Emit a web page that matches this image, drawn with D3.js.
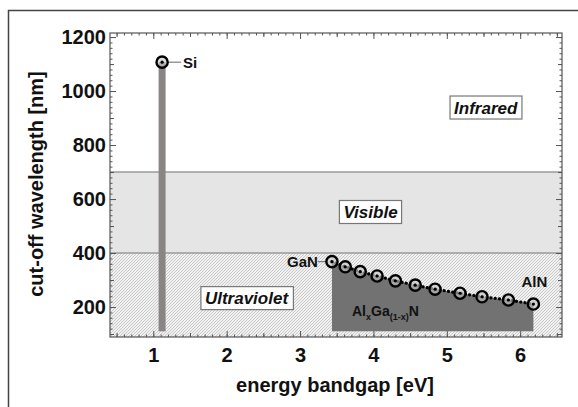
<!DOCTYPE html>
<html><head><meta charset="utf-8">
<script src="https://cdn.jsdelivr.net/npm/d3@7"></script>
<style>
body{margin:0;background:#fff}
svg{display:block}
text{font-family:"Liberation Sans",Arial,sans-serif;font-weight:bold;fill:#111}
</style>
</head><body><svg id="c" width="578" height="407"></svg>
<script>
// ---- data ----
const xTicks = [1, 2, 3, 4, 5, 6];
const yTicks = [200, 400, 600, 800, 1000, 1200];
const xDomain = [0.41, 6.57];
const yDomain = [89, 1215];
const regionNames = ["Ultraviolet", "Visible", "Infrared"];
const regionLow = [89, 400, 700];
const regionHigh = [400, 700, 1215];
const regionLabelX = [2.27, 3.96, 5.53];
const regionLabelY = [233, 552, 939];
const siEnergy = [1.12];
const siWavelength = [1107];
const alganEnergy = [3.435, 3.616, 3.82, 4.05, 4.30, 4.57, 4.84, 5.18, 5.48, 5.84, 6.18];
const alganWavelength = [368, 349, 331, 315, 297, 281, 266, 251, 238, 226, 211];
const baseWavelength = 110;

// ---- layout ----
const W = 578, H = 407;
const L = 110, T = 33, R = 562, B = 337;
const svg = d3.select("#c");
const x = d3.scaleLinear().domain(xDomain).range([L, R]);
const y = d3.scaleLinear().domain(yDomain).range([B, T]);

// outer frame
svg.append("path").attr("d", `M8.5,${H+2} L8.5,10.5 L${W+2},10.5`)
  .attr("fill", "none").attr("stroke", "#444").attr("stroke-width", 1.5);

// hatch pattern
const defs = svg.append("defs");
const pat = defs.append("pattern").attr("id", "hatch").attr("patternUnits", "userSpaceOnUse")
  .attr("width", 3).attr("height", 3);
pat.append("rect").attr("width", 3).attr("height", 3).attr("fill", "#f1f1f1");
pat.append("path").attr("d", "M-1,1 L1,-1 M0,3 L3,0 M2,4 L4,2").attr("stroke", "#c4c4c4").attr("stroke-width", 0.9);
defs.append("clipPath").attr("id", "plotclip").append("rect")
  .attr("x", L).attr("y", T).attr("width", R - L).attr("height", B - T);

const plot = svg.append("g").attr("clip-path", "url(#plotclip)");
plot.append("rect").attr("x", L).attr("y", T).attr("width", R - L).attr("height", B - T).attr("fill", "#fff");

const fills = ["url(#hatch)", "#e5e5e5", "#ffffff"];
regionNames.forEach((n, i) => {
  plot.append("rect").attr("x", L).attr("width", R - L)
    .attr("y", y(regionHigh[i])).attr("height", y(regionLow[i]) - y(regionHigh[i]))
    .attr("fill", fills[i]);
});
// boundaries
[400, 700].forEach(v => {
  plot.append("line").attr("x1", L).attr("x2", R).attr("y1", y(v)).attr("y2", y(v))
    .attr("stroke", "#9a9a9a").attr("stroke-width", 1.5);
});

// Si bar
plot.selectAll(".si").data(siEnergy).enter().append("rect")
  .attr("x", d => x(d) - 3.5).attr("width", 7)
  .attr("y", (d, i) => y(siWavelength[i])).attr("height", (d, i) => y(baseWavelength) - y(siWavelength[i]))
  .attr("fill", "#8a8585");

// AlGaN area
const pts = alganEnergy.map((e, i) => [e, alganWavelength[i]]);
plot.append("path").datum(pts)
  .attr("d", d3.area().x(d => x(d[0])).y0(y(baseWavelength)).y1(d => y(d[1])))
  .attr("fill", "#727272");

// dotted line
plot.append("path").datum(pts)
  .attr("d", d3.line().x(d => x(d[0])).y(d => y(d[1])))
  .attr("fill", "none").attr("stroke", "#000").attr("stroke-width", 3.2)
  .attr("stroke-dasharray", "0.1,4.2").attr("stroke-linecap", "round");

// region label boxes
regionNames.forEach((n, i) => {
  const g = svg.append("g").attr("transform", `translate(${x(regionLabelX[i])},${y(regionLabelY[i])})`);
  const t = g.append("text").attr("text-anchor", "middle").attr("dy", "0.36em")
    .style("font-style", "italic").style("font-size", "17px").text(n);
  const bb = t.node().getBBox();
  g.insert("rect", "text").attr("x", bb.x - 4).attr("y", -11.5).attr("width", bb.width + 8).attr("height", 23)
    .attr("fill", "#fff").attr("stroke", "#777").attr("stroke-width", 1.2);
});

// leader lines + labels
function leader(x1, y1, x2) {
  svg.append("line").attr("x1", x1).attr("x2", x2).attr("y1", y1).attr("y2", y1)
    .attr("stroke", "#666").attr("stroke-width", 1);
}
leader(x(siEnergy[0]) + 6, y(siWavelength[0]), x(siEnergy[0]) + 19);
svg.append("text").attr("x", x(siEnergy[0]) + 21).attr("y", y(siWavelength[0])).attr("dy", "0.36em")
  .style("font-size", "15px").text("Si");
leader(x(alganEnergy[0]) - 14, y(alganWavelength[0]), x(alganEnergy[0]) - 6);
svg.append("text").attr("x", x(alganEnergy[0]) - 14).attr("y", y(alganWavelength[0])).attr("dy", "0.36em")
  .attr("text-anchor", "end").style("font-size", "15px").text("GaN");
svg.append("text").attr("x", x(alganEnergy[alganEnergy.length - 1]) + 14)
  .attr("y", y(alganWavelength[alganWavelength.length - 1]) - 22).attr("dy", "0.36em")
  .attr("text-anchor", "end").style("font-size", "15px").text("AlN");

// AlGaN label
const lab = svg.append("text").attr("x", 352).attr("y", 316).style("font-size", "14px");
lab.append("tspan").text("Al");
lab.append("tspan").attr("dy", 4).style("font-size", "9px").text("x");
lab.append("tspan").attr("dy", -4).text("Ga");
lab.append("tspan").attr("dy", 4).style("font-size", "9px").text("(1-x)");
lab.append("tspan").attr("dy", -4).text("N");

// markers
const allE = siEnergy.concat(alganEnergy);
const allW = siWavelength.concat(alganWavelength);
const mk = svg.append("g");
allE.forEach((e, i) => {
  mk.append("circle").attr("cx", x(e)).attr("cy", y(allW[i])).attr("r", 5.6)
    .attr("fill", "rgba(200,200,200,0.6)").attr("stroke", "#000").attr("stroke-width", 2.4);
  mk.append("circle").attr("cx", x(e)).attr("cy", y(allW[i])).attr("r", 1.6).attr("fill", "#000");
});

// axes
const axColor = "#555";
function styleAxis(g) {
  g.select(".domain").remove();
  g.selectAll("line").attr("stroke", axColor);
  g.selectAll("text").style("font-size", "20px").attr("fill", "#111");
}
const xMinor = d3.range(0.5, 6.6, 0.1).map(v => +v.toFixed(1)).filter(v => v >= xDomain[0]);
const xMid = d3.range(0.5, 6.6, 1);
const yMinor = d3.range(100, 1220, 20);
const yMid = d3.range(100, 1220, 200);

[[d3.axisBottom, B, "translate(0," + B + ")"], [d3.axisTop, T, "translate(0," + T + ")"]].forEach(([ax, pos, tr], k) => {
  svg.append("g").attr("transform", tr).call(ax(x).tickValues(xMinor).tickSize(-2.5).tickFormat("")).call(styleAxis);
  svg.append("g").attr("transform", tr).call(ax(x).tickValues(xMid).tickSize(-4).tickFormat("")).call(styleAxis);
  const g = svg.append("g").attr("transform", tr).call(ax(x).tickValues(xTicks).tickSize(-6).tickPadding(11)
    .tickFormat(k === 0 ? d3.format("d") : "")).call(styleAxis);
});
[[d3.axisLeft, "translate(" + L + ",0)"], [d3.axisRight, "translate(" + R + ",0)"]].forEach(([ax, tr], k) => {
  svg.append("g").attr("transform", tr).call(ax(y).tickValues(yMinor).tickSize(-2.5).tickFormat("")).call(styleAxis);
  svg.append("g").attr("transform", tr).call(ax(y).tickValues(yMid).tickSize(-4).tickFormat("")).call(styleAxis);
  svg.append("g").attr("transform", tr).call(ax(y).tickValues(yTicks).tickSize(-6).tickPadding(4)
    .tickFormat(k === 0 ? d3.format("d") : "")).call(styleAxis);
});
svg.append("rect").attr("x", L).attr("y", T).attr("width", R - L).attr("height", B - T)
  .attr("fill", "none").attr("stroke", axColor).attr("stroke-width", 1.2);

// titles
svg.append("text").attr("x", 335).attr("y", 392).attr("text-anchor", "middle")
  .style("font-size", "20px").text("energy bandgap [eV]");
svg.append("text").attr("transform", "translate(43,184) rotate(-90)").attr("text-anchor", "middle")
  .style("font-size", "20px").text("cut-off wavelength [nm]");
</script></body></html>
